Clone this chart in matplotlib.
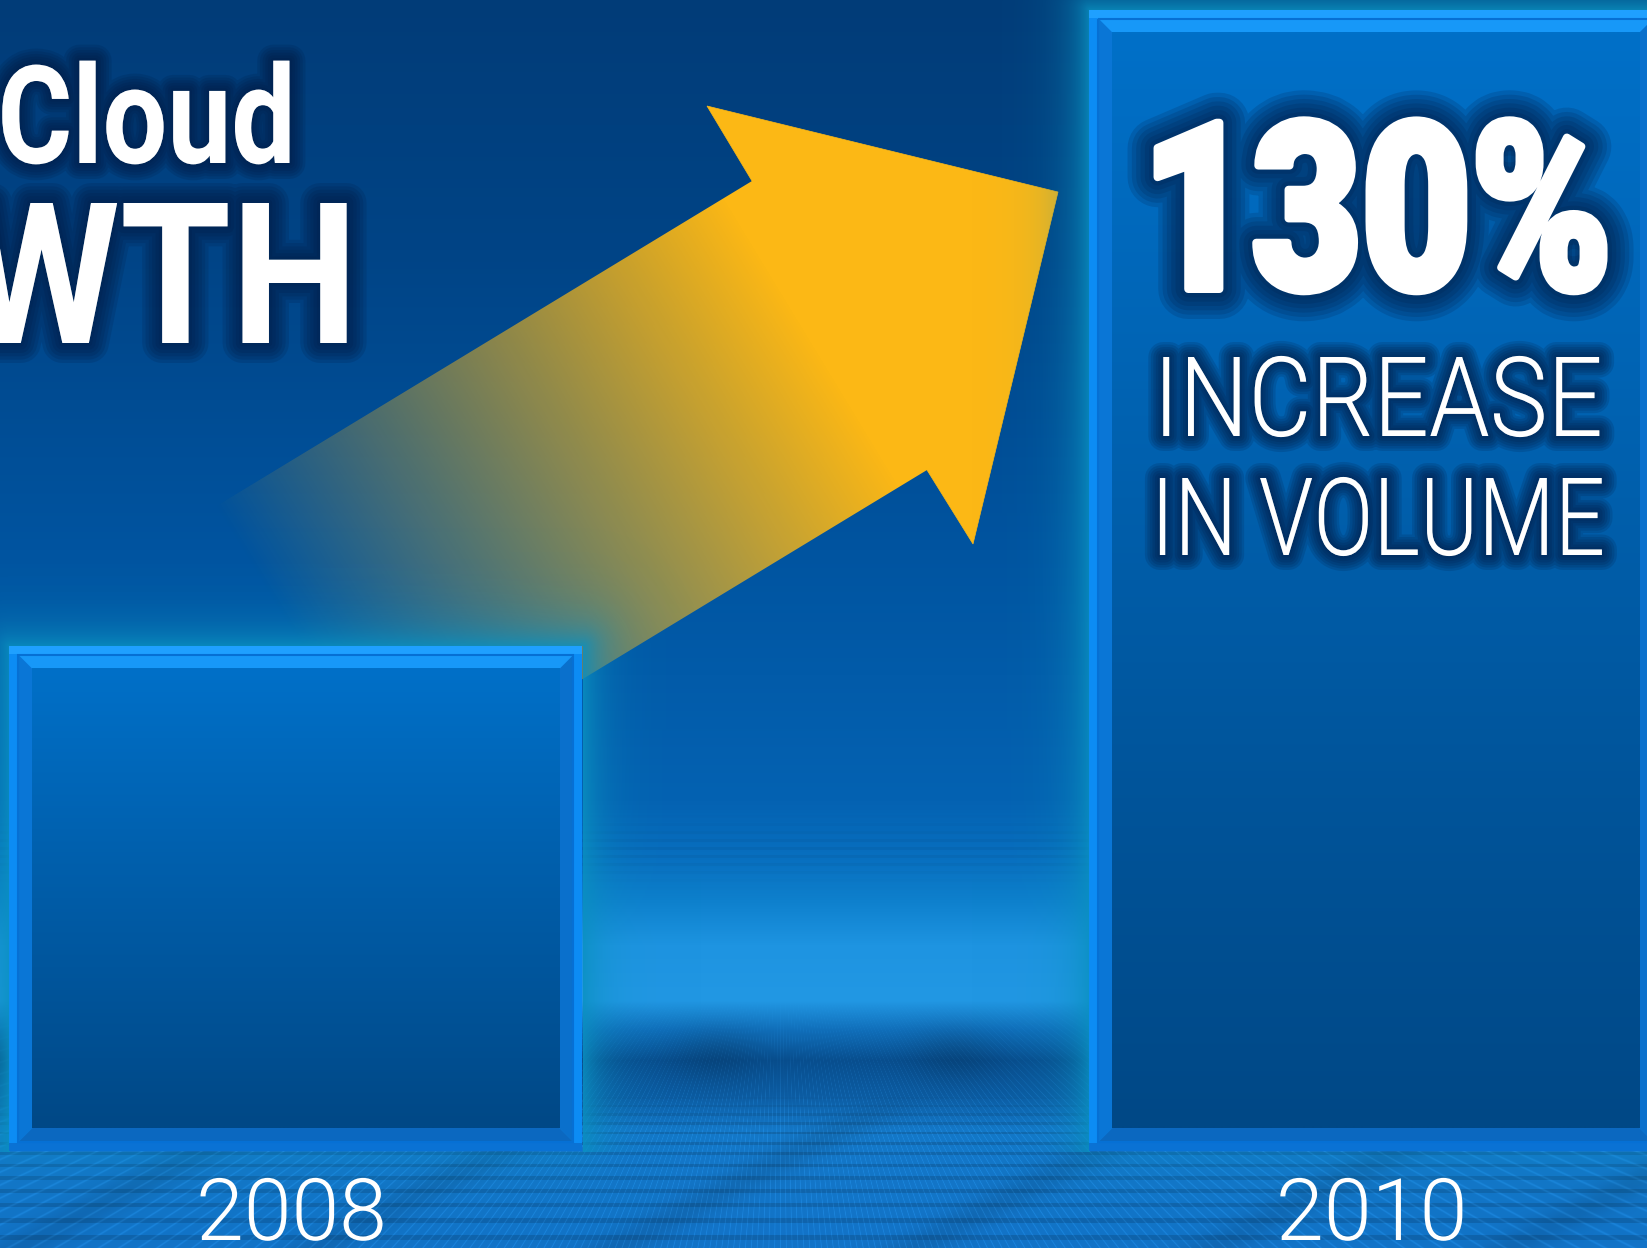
import numpy as np
import matplotlib
matplotlib.use('Agg')
import matplotlib.pyplot as plt
import matplotlib.patheffects as pe
from matplotlib import font_manager as fm
from matplotlib.patches import Polygon
from matplotlib.textpath import TextPath
from matplotlib.transforms import Affine2D

# ---- data ----
years = ['2008', '2010']
volume = [100, 226]            # bar heights (2008 = 100)
growth = '130%'
growth_note = ['INCREASE', 'IN VOLUME']
title = ['Cloud', 'GROWTH']

W, H = 1647, 1248
fig = plt.figure(figsize=(W / 100, H / 100), dpi=100)
ax = fig.add_axes([0, 0, 1, 1])
XLIM, YLIM = (-0.274, 1.251), (-19.2, 227.9)
ax.set_xlim(*XLIM)
ax.set_ylim(*YLIM)
ax.axis('off')
FULL = (XLIM[0], XLIM[1], YLIM[0], YLIM[1])


def to_data(pts):
    # pixel coords measured from the top-left corner -> data coords
    pts = np.atleast_2d(np.asarray(pts, float))
    disp = np.column_stack([pts[:, 0], H - pts[:, 1]])
    return ax.transData.inverted().transform(disp)


names = {f.name for f in fm.fontManager.ttflist}


def pick(cands):
    return next((c for c in cands if c in names), 'DejaVu Sans')


heavy = fm.FontProperties(family=pick(['Roboto', 'Lato', 'Open Sans']), weight=900)
bold = fm.FontProperties(family=pick(['Roboto', 'Open Sans', 'Noto Sans']), weight='bold')
light = fm.FontProperties(family=pick(['Roboto', 'Open Sans', 'Lato']), weight=300)

# ---- bars ----
bars = ax.bar(range(len(years)), volume, width=0.5306, color='#0c8cf4',
              linewidth=0, zorder=3)
boxes = []
for b in bars:
    x0, y0, x1, y1 = b.get_window_extent().extents
    boxes.append((x0, H - y1, x1, H - y0))   # left, top, right, bottom (px from top)

yy, xx = np.mgrid[0:H, 0:W].astype(float)

# ---- background: dark blue sky + grid floor ----
sy = [0, 250, 550, 800, 860, 900, 945, 1000, 1030, 1060, 1095, 1130, 1248]
sr = [2, 0, 0, 4, 8, 14, 30, 34, 16, 8, 12, 20, 18]
sg = [60, 68, 84, 98, 112, 128, 148, 152, 110, 78, 92, 120, 115]
sb = [120, 134, 160, 178, 192, 205, 225, 228, 185, 142, 162, 200, 200]
col = np.stack([np.interp(np.arange(H), sy, c) for c in (sr, sg, sb)], -1) / 255
bg = np.repeat(col[:, None, :], W, axis=1)

vx, vy = 780.0, 820.0
fy = np.clip((yy - 1000) / 100, 0, 1)
fr = np.clip((yy - 1090) / 40, 0, 1)
hz = np.exp(-((yy - 850) / 25) ** 2)
ang = np.arctan2(xx - vx, np.maximum(yy - vy, 1.0))
rays = np.cos(ang * 230) ** 24
rows = (np.cos(np.pi * 20000 / np.maximum(yy - vy, 5)) > 0.6).astype(float)
hlines = (np.cos(np.pi * yy / 4.0) > 0.7).astype(float)
blocks = (0.5 + 0.5 * np.cos(xx / 38.0)) ** 3 * np.exp(-((yy - 1055) / 28) ** 2)
streak = np.cos((xx + 1.9 * yy) / 95.0) ** 16 * fr      # soft diagonal shadows
bg = bg * (1 - 0.14 * rows * fr - 0.05 * hlines * hz)[..., None]
bg = bg * (1 - 0.12 * blocks - 0.10 * streak)[..., None]
bg = bg + (0.10 * rays * fy)[..., None] * np.array([0.3, 0.55, 0.7])
ax.imshow(np.clip(bg, 0, 1), extent=FULL, aspect='auto', zorder=0, interpolation='bilinear')

# ---- arrow (fades out toward the 2008 bar) ----
A, B, T, C, D = (707, 106), (752, 181), (1058, 192), (973, 544), (927, 470)
d = np.array([-0.855, 0.519])
shaft = [np.array(B) - 3 * d, np.array(D) - 3 * d, np.array(D) + 800 * d, np.array(B) + 800 * d]
shaft_poly = Polygon(to_data(shaft), closed=True, facecolor='none', edgecolor='none')
ax.add_patch(shaft_poly)
t = 0.855 * xx - 0.519 * yy
alpha = np.clip((t + 80) / 595, 0, 1)
yel = np.array([252, 184, 21]) / 255
arr = np.zeros((H, W, 4))
arr[..., :3] = yel
arr[..., 3] = alpha
im = ax.imshow(arr, extent=FULL, aspect='auto', zorder=1, interpolation='bilinear')
im.set_clip_path(shaft_poly)
ax.add_patch(Polygon(to_data([B, A, T, C, D]), closed=True, facecolor=yel,
                     edgecolor=yel, linewidth=0.5, zorder=1.1))

# ---- glow around bars ----
glow = np.zeros((H, W))
for (L, Tp, R, Bm) in boxes:
    dx = np.maximum(np.maximum(L - xx, xx - R), 0)
    dy = np.maximum(np.maximum(Tp - yy, yy - Bm), 0)
    dist = np.hypot(dx, dy)
    g = np.exp(-dist / 22) * (dist > 0)
    g[yy > Bm] *= 0.3
    glow = np.maximum(glow, g)
garr = np.zeros((H, W, 4))
garr[..., :3] = np.array([10, 145, 192]) / 255
garr[..., 3] = 0.85 * glow
ax.imshow(garr, extent=FULL, aspect='auto', zorder=2, interpolation='bilinear')

# ---- bevelled bar faces ----
face = np.linspace(0, 1, 256)[:, None]
top_c, bot_c = np.array([0, 112, 200]) / 255, np.array([0, 72, 134]) / 255
face_img = (top_c * (1 - face) + bot_c * face)[:, None, :]
for (L, Tp, R, Bm) in boxes:
    o, i = 9, 23
    ax.add_patch(Polygon(to_data([(L, Tp), (R, Tp), (R, Tp + 8), (L, Tp + 8)]),
                         facecolor='#1fa0ff', linewidth=0, zorder=4))
    ax.add_patch(Polygon(to_data([(L, Bm - 8), (R, Bm - 8), (R, Bm), (L, Bm)]),
                         facecolor='#0a72d4', linewidth=0, zorder=4))
    bevel = {
        '#1798f8': [(L + o, Tp + o), (R - o, Tp + o), (R - i, Tp + i), (L + i, Tp + i)],
        '#0a76d6': [(L + o, Tp + o), (L + i, Tp + i), (L + i, Bm - i), (L + o, Bm - o)],
        '#0a70cc': [(R - o, Tp + o), (R - i, Tp + i), (R - i, Bm - i), (R - o, Bm - o)],
        '#0b68c0': [(L + o, Bm - o), (L + i, Bm - i), (R - i, Bm - i), (R - o, Bm - o)],
    }
    for c, pts in bevel.items():
        ax.add_patch(Polygon(to_data(pts), facecolor=c, linewidth=0, zorder=4))
    ax.add_patch(Polygon(to_data([(L + o, Tp + o), (R - o, Tp + o), (R - o, Bm - o), (L + o, Bm - o)]),
                         facecolor='none', edgecolor='#0670d4', linewidth=1.5, zorder=4.5))
    (fx0, fy0), (fx1, fy1) = to_data([(L + i, Bm - i), (R - i, Tp + i)])
    ax.imshow(face_img, extent=(fx0, fx1, fy0, fy1), aspect='auto', zorder=5,
              interpolation='bilinear')


# ---- text with dark halo, stretched tall like the narrow original lettering ----
class Stretch(pe.AbstractPathEffect):
    def __init__(self, inner, sx, sy, cx, cy):
        super().__init__()
        self.inner = inner
        self.st = Affine2D().translate(-cx, -cy).scale(sx, sy).translate(cx, cy)

    def draw_path(self, renderer, gc, tpath, affine, rgbFace=None):
        self.inner.draw_path(renderer, gc, tpath, affine + self.st, rgbFace)


def glow_text(s, x, base, cap, width, fp, ha, ref=None, hchars='H', halo=18, fatten=0, shrink=1):
    # font size from the wanted width, then stretch vertically to the wanted cap height
    w1 = TextPath((0, 0), ref or s, size=100, prop=fp).get_extents().width / 100
    h1 = TextPath((0, 0), hchars, size=100, prop=fp).get_extents().height / 100
    em = width / w1
    sy = cap / (h1 * em)
    yb = H - base
    fp2 = fp.copy()
    fp2.set_size(em * 0.72 / shrink)
    k_x, k_y = shrink, sy * shrink

    def wrap(effect):
        return Stretch(effect, k_x, k_y, x, yb)

    effects = []
    if halo:
        for k in range(6, 0, -1):
            r = halo * k / 6 + fatten / 2
            effects.append(wrap(pe.Stroke(linewidth=2 * r * 0.72, foreground='#001a42',
                                          alpha=0.16)))
    if fatten:
        effects.append(wrap(pe.Stroke(linewidth=fatten * 0.72, foreground='white')))
    effects.append(wrap(pe.Normal()))
    return fig.text(x / W, yb / H, s, fontproperties=fp2, color='white', ha=ha,
                    va='baseline', path_effects=effects, zorder=10)


cx = [ax.transData.transform((k, 0))[0] for k in range(len(years))]

glow_text(title[0], 296, 163, 97, 210, bold, 'right', ref='loud', halo=16)
glow_text(title[1], 358, 343, 140, 223, bold, 'right', ref='TH', halo=20)
glow_text(growth, cx[1] + 1, 289, 171, 446, heavy, 'center', hchars='130', halo=26, fatten=8)
glow_text(growth_note[0], cx[1] + 2, 436, 79, 436, light, 'center', halo=15)
glow_text(growth_note[1], cx[1] + 2, 555, 77, 442, light, 'center', halo=15)
for k, yr in enumerate(years):
    glow_text(yr, cx[k] - 4, 1240, 63, 182, light, 'center', hchars=yr, halo=0, shrink=3)

ax.set_xlim(*XLIM)
ax.set_ylim(*YLIM)
fig.savefig('out.png', dpi=100)
